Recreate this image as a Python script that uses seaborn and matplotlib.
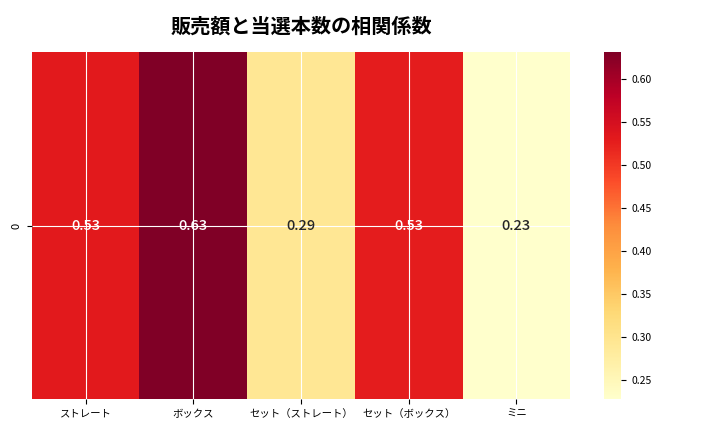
import pandas as pd
import seaborn as sns
import matplotlib.pyplot as plt

# data
labels = ['ストレート', 'ボックス', 'セット（ストレート）', 'セット（ボックス）', 'ミニ']
corr = [0.531, 0.631, 0.293, 0.528, 0.228]

df = pd.DataFrame([corr], columns=labels)

plt.rcParams['font.family'] = ['Noto Sans CJK JP', 'DejaVu Sans']

fig = plt.figure(figsize=(7.2, 4.32), dpi=100)
ax = fig.add_axes([0.044, 0.076, 0.748, 0.804])
cax = fig.add_axes([0.839, 0.076, 0.024, 0.804])

sns.heatmap(df, annot=True, fmt='.2f', cmap='YlOrRd', ax=ax, cbar_ax=cax,
            annot_kws={'fontsize': 10.5, 'fontweight': 'medium'})

# white grid on top of the cells
ax.set_axisbelow(False)
ax.grid(True, color='white', linewidth=0.8)

ax.set_title('販売額と当選本数の相関係数', fontsize=14.5, fontweight='bold', pad=14)
ax.tick_params(axis='x', labelsize=7.5, labelrotation=0)
ax.tick_params(axis='y', labelsize=8)
cax.tick_params(labelsize=7.5)

plt.savefig('out.png')
